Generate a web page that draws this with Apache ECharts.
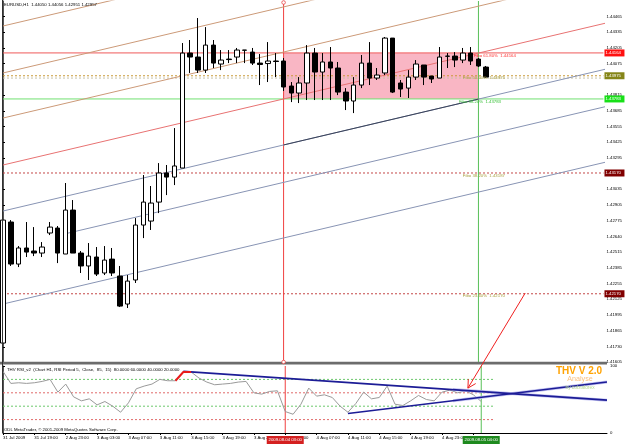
<!DOCTYPE html>
<html><head><meta charset="utf-8">
<script src="https://cdn.jsdelivr.net/npm/echarts@6/dist/echarts.min.js"></script>
<style>html,body{margin:0;padding:0;background:#fff}#c{width:625px;height:444px}</style>
</head><body><div id="c"></div>
<script>
// ---------- DATA ----------
const barOpen = [1.41762,1.42764,1.42416,1.42549,1.42524,1.42507,1.42673,1.42714,1.42499,1.42863,
1.42507,1.42400,1.42474,1.42342,1.42457,1.42317,1.42085,1.42284,1.42739,1.42772,
1.42929,1.43170,1.43136,1.43211,1.44163,1.44130,1.44022,1.44229,1.44072,1.44113,
1.44130,1.44186,1.44171,1.44080,1.44076,1.44097,1.44097,1.43890,1.43832,1.43915,
1.44163,1.44006,1.44089,1.44039,1.43840,1.43766,1.43898,1.44080,1.43956,1.43998,
1.44287,1.43915,1.43873,1.43964,1.44064,1.43973,1.43956,1.44136,1.44138,1.44105,
1.44163,1.44113,1.44047];
const barClose = [1.42780,1.42416,1.42549,1.42515,1.42507,1.42557,1.42722,1.42507,1.42863,1.42507,
1.42400,1.42482,1.42333,1.42449,1.42342,1.42068,1.42275,1.42739,1.42929,1.42921,
1.43170,1.43136,1.43228,1.44163,1.44130,1.44022,1.44229,1.44080,1.44105,1.44109,
1.44188,1.44188,1.44080,1.44068,1.44097,1.44093,1.43882,1.43832,1.43915,1.44163,
1.44006,1.44089,1.44039,1.43840,1.43766,1.43898,1.44080,1.43956,1.43981,1.44287,
1.43840,1.43865,1.43964,1.44072,1.43964,1.43948,1.44130,1.44138,1.44105,1.44163,
1.44097,1.44056,1.43964];
const barLow = [1.41679,1.42400,1.42391,1.42474,1.42482,1.42474,1.42656,1.42424,1.42499,1.42507,
1.42342,1.42284,1.42317,1.42325,1.42317,1.42060,1.42052,1.42259,1.42631,1.42698,
1.42838,1.42987,1.43070,1.43211,1.43998,1.43998,1.43998,1.44039,1.44022,1.44080,
1.44080,1.44080,1.44064,1.43898,1.43923,1.43964,1.43849,1.43757,1.43749,1.43774,
1.43774,1.43774,1.43774,1.43815,1.43691,1.43666,1.43873,1.43898,1.43940,1.43981,
1.43832,1.43799,1.43791,1.43940,1.43898,1.43915,1.43956,1.44039,1.44047,1.44080,
1.44064,1.44047,1.43956];
const barHigh = [1.42797,1.42780,1.42565,1.42764,1.42722,1.42598,1.42764,1.42731,1.43087,1.42946,
1.42524,1.42590,1.42557,1.42565,1.42549,1.42400,1.42325,1.42797,1.43153,1.43062,
1.43252,1.43236,1.43542,1.44246,1.44271,1.44453,1.44378,1.44271,1.44188,1.44188,
1.44205,1.44188,1.44205,1.44155,1.44254,1.44163,1.44122,1.43923,1.43964,1.44229,
1.44205,1.44163,1.44213,1.44089,1.43873,1.43964,1.44147,1.44254,1.44039,1.44296,
1.44287,1.43940,1.44022,1.44105,1.44064,1.43973,1.44213,1.44163,1.44171,1.44205,
1.44213,1.44122,1.44056];

const rsiValues = [92,74,75,74,75,77,80,61,73,54,48,51,42,47,40,31,45,66,70,73,
80,78,78,91,91,82,76,72,73,74,76,77,60,58,62,63,32,28,43,67,
55,57,53,40,31,44,61,51,53,70,43,41,48,56,50,48,61,64,60,63,57,47];
const rsiRedBars = [22,23,24];
const rsiLevels = [80,60,40,20];
const rsiLevelEnd = 62.6;

const priceTicks = [1.41605,1.41730,1.41865,1.41995,1.42125,1.42255,1.42385,1.42515,1.42640,1.42775,
1.42905,1.43035,1.43295,1.43425,1.43555,1.43685,1.43815,1.44075,1.44205,1.44335,1.44465];
const rsiTicks = [0,100];
const timeTickBars = [0,4,8,12,16,20,24,28,32,36,40,44,48,52,56,60];
const timeTickLabels = ['31 Jul 2009','31 Jul 19:00','2 Aug 23:00','3 Aug 03:00','3 Aug 07:00','3 Aug 11:00',
'3 Aug 15:00','3 Aug 19:00','3 Aug 23:00','4 Aug 03:00','4 Aug 07:00','4 Aug 11:00','4 Aug 15:00',
'4 Aug 19:00','4 Aug 23:00','5 Aug 03:00'];

// horizontal levels (price)
const levelRed = 1.44164, levelOlive = 1.43975, levelOlive2 = 1.43956, levelGreen = 1.43783,
      levelDark1 = 1.43170, levelDark2 = 1.42170;
// fibo annotation texts
const fiboTexts = ['Fibo 61.80%  1.44164','Fibo 50.00%  1.43975','Fibo 38.20%  1.43783','Fibo 38.20%  1.43187','Fibo 23.60%  1.42170'];
const fiboPrices = [1.44164,1.43975,1.43783,1.43170,1.42170];
const fiboBars = [60.4,59.0,58.5,59.0,59.0];

// channel lines [bar, price]
const tanLineA = [[0,1.44387],[20,1.44691]];
const tanLineB = [[0,1.43998],[45,1.44682]];
const tanLineC = [[0,1.43625],[70,1.44688]];
const redDiag = [[0,1.43236],[78,1.44421]];
const blueLine1 = [[0,1.42855],[78,1.44040]];
const blueLine1Dark = [[36,1.43402],[61,1.43782]];
const blueLine2 = [[8,1.42667],[78,1.43730]];
const blueLine3 = [[0,1.42085],[78,1.43270]];

// rsi trend lines [bar, rsi]
const rsiTrendUpper = [[23,92],[77.04,49]];
const rsiTrendLower = [[44,29],[77.04,76]];
const rsiGlowUpper = [[57.4,65],[77.04,49]];
const rsiGlowLower = [[57.4,48],[77.04,76]];

// vertical markers and rectangle
const startBar = 36, endBar = 61;
const startLabel = '2009.08.04 03:00', endLabel = '2009.08.05 04:00';
// arrow: from main pane [bar, price] to rsi pane [bar, rsi]
const arrowFrom = [67.0,1.42176];
const arrowTo = [59.3,67];

const priceMin = 1.41605, priceMax = 1.44594, barMin = 0, barMax = 77.04;

// ---------- CHART ----------
const FONT = 'Liberation Sans';
const SMALL = 4.3;
const chart = echarts.init(document.getElementById('c'));
const candleData = barOpen.map((o,i)=>[i,o,barClose[i],barLow[i],barHigh[i]]);
const rsiData = rsiValues.map((v,i)=>[i,v]);
const rsiRedData = rsiRedBars.map(i=>[i,rsiValues[i]]);
const timeMap = {}; timeTickBars.forEach((b,i)=>timeMap[b]=timeTickLabels[i]);
const dot = [2,2];

function ln(data, color, width, gi, z, type){
  return {type:'line', xAxisIndex:gi, yAxisIndex:gi, data, showSymbol:false, symbol:'none',
    lineStyle:{color, width, type:type||'solid'}, silent:true, z:z||3, emphasis:{disabled:true}};
}
const hLine = (v, color, type) => ln([[barMin, v],[barMax, v]], color, 1, 0, 3, type);
const vLine = (b, color, gi) => ln(gi===0 ? [[b, priceMin],[b, priceMax]] : [[b,0],[b,100]], color, 1, gi, 3);

const option = {
  animation:false,
  backgroundColor:'#ffffff',
  grid:[{left:3, top:1, width:604, height:361},{left:3, top:366, width:604, height:67}],
  xAxis:[
    {type:'value', gridIndex:0, min:barMin, max:barMax, show:false},
    {type:'value', gridIndex:1, min:barMin, max:barMax,
      axisLine:{show:true, lineStyle:{color:'#000', width:1}},
      axisTick:{show:true, customValues:timeTickBars, length:2, lineStyle:{color:'#000'}},
      axisLabel:{customValues:timeTickBars, formatter:v=>timeMap[Math.round(v)]||'', align:'left', margin:3,
        fontSize:SMALL, fontFamily:FONT, color:'#000', hideOverlap:false},
      splitLine:{show:false}}
  ],
  yAxis:[
    {type:'value', gridIndex:0, position:'right', min:priceMin, max:priceMax,
      axisLine:{show:true, lineStyle:{color:'#555', width:1}},
      axisTick:{show:true, customValues:priceTicks, length:2, lineStyle:{color:'#000'}},
      axisLabel:{customValues:priceTicks, formatter:v=>v.toFixed(5), fontSize:SMALL, fontFamily:FONT, color:'#000', margin:3},
      splitLine:{show:false}},
    {type:'value', gridIndex:1, position:'right', min:0, max:100,
      axisLine:{show:true, lineStyle:{color:'#555', width:1}},
      axisTick:{show:true, customValues:rsiTicks, length:2, lineStyle:{color:'#000'}},
      axisLabel:{customValues:rsiTicks, formatter:v=>String(v), fontSize:SMALL, fontFamily:FONT, color:'#000', margin:3},
      splitLine:{show:false}}
  ],
  series:[
    {type:'candlestick', name:'EURUSD', xAxisIndex:0, yAxisIndex:0, data:candleData, barWidth:5, z:4,
      silent:true, emphasis:{disabled:true},
      itemStyle:{color:'#ffffff', color0:'#000000', borderColor:'#000000', borderColor0:'#000000', borderWidth:1},
      markArea:{silent:true, precision:5, itemStyle:{color:'#f9b6c4', opacity:1},
        data:[[{xAxis:startBar, yAxis:levelGreen},{xAxis:endBar, yAxis:levelRed}]]}
    },
    hLine(levelOlive2, '#c8c2a8', dot),
    hLine(levelOlive, '#c89a38', dot),
    hLine(levelGreen, '#70e070', 'solid'),
    hLine(levelRed, '#f05a5a', 'solid'),
    hLine(levelDark1, '#c44848', dot),
    hLine(levelDark2, '#c44848', dot),
    vLine(startBar, '#f04040', 0),
    vLine(endBar, '#58c058', 0),
    ln(tanLineA, '#cc9a78', 1, 0),
    ln(tanLineB, '#cc9a78', 1, 0),
    ln(tanLineC, '#cc9a78', 1, 0),
    ln(redDiag, '#e87272', 1, 0),
    ln(blueLine1, '#8894b4', 1, 0),
    ln(blueLine1Dark, '#3a4258', 1, 0, 5),
    ln(blueLine2, '#8894b4', 1, 0),
    ln(blueLine3, '#8894b4', 1, 0),
    // RSI pane
    ...rsiLevels.map((lv,i)=>ln([[0,lv],[rsiLevelEnd,lv]], i%2===0?'#6cc86c':'#e06a6a', 1, 1, 2, dot)),
    vLine(startBar, '#f04040', 1),
    vLine(endBar, '#58c058', 1),
    ln(rsiData, '#9a9a9a', 1, 1, 3),
    ln(rsiGlowUpper, '#c4c4f2', 3, 1, 4),
    ln(rsiGlowLower, '#c4c4f2', 3, 1, 4),
    ln(rsiTrendUpper, '#1c1c96', 1.6, 1, 5),
    ln(rsiTrendLower, '#1c1c96', 1.6, 1, 5),
    ln(rsiRedData, '#e81c1c', 2, 1, 6)
  ]
};
chart.setOption(option);

// ---------- ANNOTATIONS ----------
const px = (g, pt) => chart.convertToPixel({gridIndex:g}, pt);
const G = [];
function txt(x, y, text, fill, size, opts){
  G.push({type:'text', x, y, silent:true, z:100,
    style:Object.assign({text, fill, fontSize:size, fontFamily:FONT, align:'left', verticalAlign:'middle'}, (opts||{}))});
}
// pane separator and left border
G.push({type:'rect', shape:{x:0, y:361.8, width:607, height:2.6}, style:{fill:'#6c6c6c'}, silent:true, z:90});
G.push({type:'line', shape:{x1:2.5, y1:0, x2:2.5, y2:433}, style:{stroke:'#303030', lineWidth:1}, silent:true, z:90});

txt(4, 5, 'EURUSD,H1  1.44050 1.44056 1.42951 1.42957', '#000', SMALL);
txt(7, 369.5, 'THV RSI_v2  (Chart H1, RSI Period 5,  Close,  85,  15)  80.0000 60.0000 40.0000 20.0000', '#000', SMALL);
txt(4, 430, 'ODL MetaTrader, \u00a9 2001-2009 MetaQuotes Software Corp.', '#000', SMALL);
txt(579, 371, 'THV V 2.0', '#ffa200', 10, {fontWeight:'bold', align:'center'});
txt(580, 379, 'Analyse', '#f8c080', 7.2, {align:'center'});
txt(580, 387.7, 'by cobraforex', '#b4d890', 4.8, {align:'center'});

// price markers on the right axis
[[levelRed,'#ff1010'],[levelOlive,'#858518'],[levelGreen,'#18e018'],[levelDark1,'#800000'],[levelDark2,'#800000']].forEach(m=>{
  const p = px(0, [barMax, m[0]]);
  G.push({type:'rect', shape:{x:p[0]+1, y:p[1]-3.5, width:20, height:7}, style:{fill:m[1]}, silent:true, z:100});
  txt(p[0]+2, p[1]+0.3, m[0].toFixed(5), '#ffffff', SMALL);
});

// fibo level texts
const fiboColors = ['#ff3030','#a8a040','#38c038','#a8a040','#a8a040'];
fiboTexts.forEach((t,i)=>{
  const p = px(0, [fiboBars[i], fiboPrices[i]]);
  txt(p[0], p[1]+2.4, t, fiboColors[i], SMALL);
});

// anchor circles on start line
const topP = px(0, [startBar, priceMax]);
const botP = px(0, [startBar, priceMin]);
[[topP[0], topP[1]+1.5],[botP[0], botP[1]]].forEach(c=>{
  G.push({type:'circle', shape:{cx:c[0], cy:c[1], r:1.8}, style:{fill:'#fff', stroke:'#e84848', lineWidth:0.8}, silent:true, z:95});
});

// time boxes on bottom axis
[[startBar, startLabel, '#d42020'],[endBar, endLabel, '#1e8a1e']].forEach(b=>{
  const p = px(1, [b[0], 0]);
  G.push({type:'rect', shape:{x:p[0]-18.5, y:p[1]+3, width:37, height:8}, style:{fill:b[2]}, silent:true, z:100});
  txt(p[0], p[1]+7.2, b[1], '#ffffff', SMALL, {align:'center'});
});

// red arrow
const a0 = px(0, arrowFrom), a1 = px(1, arrowTo);
G.push({type:'line', shape:{x1:a0[0], y1:a0[1], x2:a1[0], y2:a1[1]}, style:{stroke:'#f02020', lineWidth:1}, silent:true, z:100});
(function(){
  const dx = a0[0]-a1[0], dy = a0[1]-a1[1], L = Math.hypot(dx,dy), ux = dx/L, uy = dy/L, len = 9;
  [0.5,-0.5].forEach(ang=>{
    const c = Math.cos(ang), s = Math.sin(ang);
    const hx = ux*c - uy*s, hy = ux*s + uy*c;
    G.push({type:'line', shape:{x1:a1[0], y1:a1[1], x2:a1[0]+hx*len, y2:a1[1]+hy*len}, style:{stroke:'#f02020', lineWidth:1}, silent:true, z:100});
  });
})();

chart.setOption({graphic:G});
</script>
</body></html>
